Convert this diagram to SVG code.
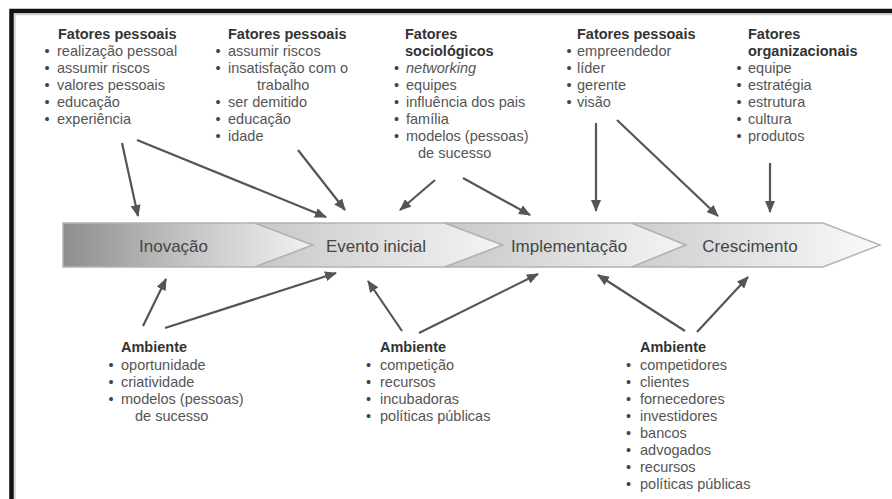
<svg xmlns="http://www.w3.org/2000/svg" width="892" height="499" viewBox="0 0 892 499">
<defs>
<style>
.t{font-family:"Liberation Sans",Arial,sans-serif;font-size:14.5px;font-weight:bold;fill:#333}
.i{font-family:"Liberation Sans",Arial,sans-serif;font-size:14.5px;fill:#555}
.b{font-family:"Liberation Sans",Arial,sans-serif;font-size:14.5px;fill:#444}
.lab{font-family:"Liberation Sans",Arial,sans-serif;font-size:17px;fill:#454545;text-anchor:middle}
.seg{stroke:#b3b3b3;stroke-width:1.5;stroke-linejoin:miter}
.c{stroke:#555;stroke-width:2.2;fill:none;marker-end:url(#ah)}
</style>
<linearGradient id="g1" x1="0" y1="0" x2="1" y2="0">
<stop offset="0" stop-color="#8e8e8e"/>
<stop offset="0.5" stop-color="#c4c4c4"/>
<stop offset="1" stop-color="#f2f2f2"/>
</linearGradient>
<linearGradient id="g2" x1="0" y1="0" x2="1" y2="0">
<stop offset="0" stop-color="#c8c8c8"/>
<stop offset="1" stop-color="#f4f4f4"/>
</linearGradient>
<linearGradient id="g4" x1="0" y1="0" x2="1" y2="0">
<stop offset="0" stop-color="#cdcdcd"/>
<stop offset="1" stop-color="#fbfbfb"/>
</linearGradient>
<marker id="ah" markerUnits="userSpaceOnUse" markerWidth="12" markerHeight="10" refX="11" refY="5" orient="auto">
<path d="M0,0 L12,5 L0,10 z" fill="#555"/>
</marker>
</defs>
<rect width="892" height="499" fill="#ffffff"/>
<g id="frame">
<path d="M11.5,499 V11 H892" fill="none" stroke="#111" stroke-width="4.5"/>
<path d="M15,499 V14.5 H892" fill="none" stroke="#cfcfcf" stroke-width="1.5"/>
</g>

<g id="stage-inovacao">
<path class="seg" d="M63,223 H255 L313,245 L255,267 H63 Z" fill="url(#g1)"/>
<text class="lab" x="173.5" y="252">Inovação</text>
</g>
<g id="stage-evento">
<path class="seg" d="M255,223 H445 L503,245 L445,267 H255 L313,245 Z" fill="url(#g2)"/>
<text class="lab" x="376" y="252">Evento inicial</text>
</g>
<g id="stage-implementacao">
<path class="seg" d="M445,223 H632 L686,245 L632,267 H445 L503,245 Z" fill="url(#g2)"/>
<text class="lab" x="569" y="252">Implementação</text>
</g>
<g id="stage-crescimento">
<path class="seg" d="M632,223 H823 L880,245 L823,267 H632 L686,245 Z" fill="url(#g4)"/>
<text class="lab" x="750" y="252">Crescimento</text>
</g>

<g id="top1">
<text class="t" x="58" y="38.5">Fatores pessoais</text>
<text class="b" x="44.5" y="55.5">•</text><text class="i" x="57" y="55.5">realização pessoal</text>
<text class="b" x="44.5" y="72.5">•</text><text class="i" x="57" y="72.5">assumir riscos</text>
<text class="b" x="44.5" y="89.5">•</text><text class="i" x="57" y="89.5">valores pessoais</text>
<text class="b" x="44.5" y="106.5">•</text><text class="i" x="57" y="106.5">educação</text>
<text class="b" x="44.5" y="123.5">•</text><text class="i" x="57" y="123.5">experiência</text>
</g>
<g id="top2">
<text class="t" x="228" y="38.5">Fatores pessoais</text>
<text class="b" x="215.5" y="55.5">•</text><text class="i" x="228" y="55.5">assumir riscos</text>
<text class="b" x="215.5" y="72.5">•</text><text class="i" x="228" y="72.5">insatisfação com o</text>
<text class="i" x="257" y="89.5">trabalho</text>
<text class="b" x="215.5" y="106.5">•</text><text class="i" x="228" y="106.5">ser demitido</text>
<text class="b" x="215.5" y="123.5">•</text><text class="i" x="228" y="123.5">educação</text>
<text class="b" x="215.5" y="140.5">•</text><text class="i" x="228" y="140.5">idade</text>
</g>
<g id="top3">
<text class="t" x="405" y="38.5">Fatores</text>
<text class="t" x="405" y="55.5">sociológicos</text>
<text class="b" x="394" y="72.5">•</text><text class="i" x="406" y="72.5" font-style="italic">networking</text>
<text class="b" x="394" y="89.5">•</text><text class="i" x="406" y="89.5">equipes</text>
<text class="b" x="394" y="106.5">•</text><text class="i" x="406" y="106.5">influência dos pais</text>
<text class="b" x="394" y="123.5">•</text><text class="i" x="406" y="123.5">família</text>
<text class="b" x="394" y="140.5">•</text><text class="i" x="406" y="140.5">modelos (pessoas)</text>
<text class="i" x="418" y="157.5">de sucesso</text>
</g>
<g id="top4">
<text class="t" x="577" y="38.5">Fatores pessoais</text>
<text class="b" x="566.5" y="55.5">•</text><text class="i" x="577" y="55.5">empreendedor</text>
<text class="b" x="566.5" y="72.5">•</text><text class="i" x="577" y="72.5">líder</text>
<text class="b" x="566.5" y="89.5">•</text><text class="i" x="577" y="89.5">gerente</text>
<text class="b" x="566.5" y="106.5">•</text><text class="i" x="577" y="106.5">visão</text>
</g>
<g id="top5">
<text class="t" x="748" y="38.5">Fatores</text>
<text class="t" x="748" y="55.5">organizacionais</text>
<text class="b" x="736.5" y="72.5">•</text><text class="i" x="748" y="72.5">equipe</text>
<text class="b" x="736.5" y="89.5">•</text><text class="i" x="748" y="89.5">estratégia</text>
<text class="b" x="736.5" y="106.5">•</text><text class="i" x="748" y="106.5">estrutura</text>
<text class="b" x="736.5" y="123.5">•</text><text class="i" x="748" y="123.5">cultura</text>
<text class="b" x="736.5" y="140.5">•</text><text class="i" x="748" y="140.5">produtos</text>
</g>

<g id="bottom1">
<text class="t" x="121" y="352">Ambiente</text>
<text class="b" x="108.5" y="369.5">•</text><text class="i" x="121" y="369.5">oportunidade</text>
<text class="b" x="108.5" y="386.5">•</text><text class="i" x="121" y="386.5">criatividade</text>
<text class="b" x="108.5" y="403.5">•</text><text class="i" x="121" y="403.5">modelos (pessoas)</text>
<text class="i" x="135" y="420.5">de sucesso</text>
</g>
<g id="bottom2">
<text class="t" x="380" y="352">Ambiente</text>
<text class="b" x="366" y="369.5">•</text><text class="i" x="380" y="369.5">competição</text>
<text class="b" x="366" y="386.5">•</text><text class="i" x="380" y="386.5">recursos</text>
<text class="b" x="366" y="403.5">•</text><text class="i" x="380" y="403.5">incubadoras</text>
<text class="b" x="366" y="420.5">•</text><text class="i" x="380" y="420.5">políticas públicas</text>
</g>
<g id="bottom3">
<text class="t" x="640" y="352">Ambiente</text>
<text class="b" x="626" y="369.5">•</text><text class="i" x="640" y="369.5">competidores</text>
<text class="b" x="626" y="386.5">•</text><text class="i" x="640" y="386.5">clientes</text>
<text class="b" x="626" y="403.5">•</text><text class="i" x="640" y="403.5">fornecedores</text>
<text class="b" x="626" y="420.5">•</text><text class="i" x="640" y="420.5">investidores</text>
<text class="b" x="626" y="437.5">•</text><text class="i" x="640" y="437.5">bancos</text>
<text class="b" x="626" y="454.5">•</text><text class="i" x="640" y="454.5">advogados</text>
<text class="b" x="626" y="471.5">•</text><text class="i" x="640" y="471.5">recursos</text>
<text class="b" x="626" y="488.5">•</text><text class="i" x="640" y="488.5">políticas públicas</text>
</g>

<g id="connectors">
<line class="c" x1="122" y1="143" x2="138" y2="216"/>
<line class="c" x1="137" y1="140" x2="326" y2="217"/>
<line class="c" x1="298" y1="150" x2="345" y2="210"/>
<line class="c" x1="435" y1="180" x2="400" y2="210"/>
<line class="c" x1="463" y1="178" x2="530" y2="215"/>
<line class="c" x1="596" y1="123" x2="596" y2="211"/>
<line class="c" x1="617" y1="120" x2="718" y2="216"/>
<line class="c" x1="770" y1="163" x2="770" y2="212"/>
<line class="c" x1="143" y1="326" x2="166" y2="279"/>
<line class="c" x1="165" y1="328" x2="336" y2="273"/>
<line class="c" x1="402" y1="331" x2="368" y2="281"/>
<line class="c" x1="419" y1="333" x2="538" y2="274"/>
<line class="c" x1="685" y1="331" x2="598" y2="275"/>
<line class="c" x1="697" y1="332" x2="748" y2="277"/>
</g>
</svg>
